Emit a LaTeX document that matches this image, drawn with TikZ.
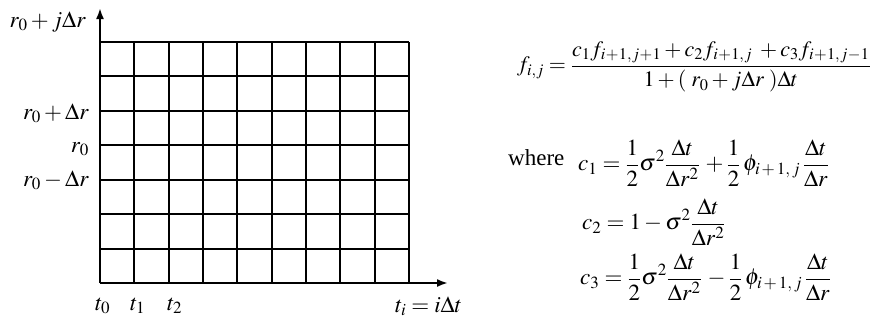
\documentclass[tikz,border=0pt]{standalone}
\usepackage{mathptmx}
\usepackage[no-math]{fontspec}
\setmainfont{Liberation Serif}
\usetikzlibrary{arrows.meta}
\newcommand\subgap{\kern0.4pt}
\newcommand\cgap{\kern2pt}
\begin{document}
\begin{tikzpicture}[x=1pt,y=-1pt,
  gridline/.style={line width=2pt},
  axis/.style={line width=2pt,-{Latex[length=11pt,width=8pt]}},
  lbl/.style={inner sep=0pt,font=\fontsize{23}{27}\selectfont},
  flbl/.style={inner sep=0pt,font=\fontsize{22}{26}\selectfont}]
\useasboundingbox (0,0) rectangle (874,322);
\fill[white] (0,0) rectangle (874,322);
% grid
\foreach \x in {134,169,203,237,272,306,340,375,409}
  \draw[gridline] (\x,42) -- (\x,283);
\foreach \y in {42,76,111,145,180,214,249}
  \draw[gridline] (100,\y) -- (409,\y);
% axes
\coordinate (O) at (100,283);
\coordinate (ytip) at (100,8);
\coordinate (xtip) at (448,283);
\draw[axis] (O) -- (ytip);
\draw[axis] (O) -- (xtip);
% axis labels
\node[lbl,anchor=base east] (ltop) at (86,27) {$r_0 + j\Delta r$};
\node[lbl,anchor=base east] (lp) at (89,119) {$r_0 + \Delta r$};
\node[lbl,anchor=base east] (lz) at (89,152) {$r_0$};
\node[lbl,anchor=base east] (lm) at (89,186) {$r_0 - \Delta r$};
\node[lbl,anchor=base west] (t0) at (95,310) {$t_0$};
\node[lbl,anchor=base west] (t1) at (130,310) {$t_1$};
\node[lbl,anchor=base west] (t2) at (167,310) {$t_2$};
\node[lbl,anchor=base west] (ti) at (395,312) {$t_i = i\Delta t$};
% formulas
\node[flbl,anchor=east] (feq) at (871,67) {$\displaystyle f_{i,j}= \frac{c_1 f_{\subgap i\subgap +\subgap 1,\subgap j\subgap +\subgap 1} + c_2 f_{\subgap i\subgap +\subgap 1,\subgap j} \;+ c_3 f_{\subgap i\subgap +\subgap 1,\subgap j\subgap -\subgap 1}}{1 + (\; r_0 + j\Delta r\;)\Delta t}$};
\node[lbl,anchor=base west] (where) at (508,165) {where};
\node[lbl,anchor=west] (c1) at (578,163) {$\displaystyle c_1 = \frac{1}{2}\sigma^2\frac{\Delta t}{\Delta r^2}\, + \frac{1}{2}\,\phi_{i\cgap +\cgap 1,\cgap j}\,\frac{\Delta t}{\Delta r}$};
\node[lbl,anchor=west] (c2) at (582,222) {$\displaystyle c_2 = 1 - \sigma^2\frac{\Delta t}{\Delta r^2}$};
\node[lbl,anchor=west] (c3) at (580,277) {$\displaystyle c_3 = \frac{1}{2}\sigma^2\frac{\Delta t}{\Delta r^2}\, - \frac{1}{2}\,\phi_{i\cgap +\cgap 1,\cgap j}\,\frac{\Delta t}{\Delta r}$};
\end{tikzpicture}
\end{document}
